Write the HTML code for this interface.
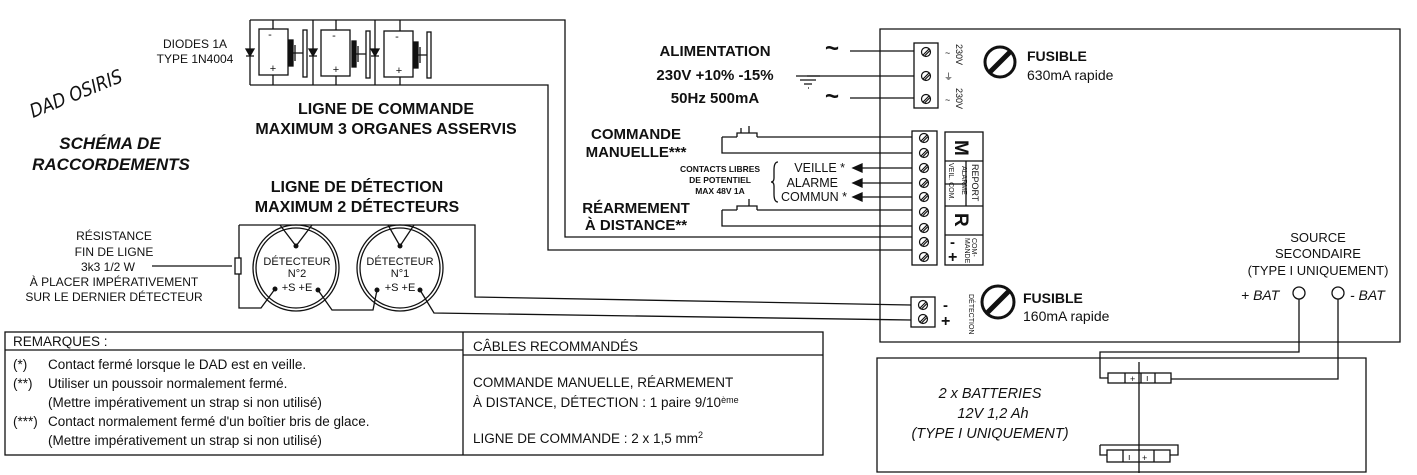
<!DOCTYPE html>
<html><head><meta charset="utf-8"><style>
html,body{margin:0;padding:0;background:#fff;}
svg{display:block;}
text{font-family:"Liberation Sans",sans-serif;fill:#111;}
.b{font-weight:bold;}
</style></head><body>
<svg width="1417" height="475" viewBox="0 0 1417 475" xmlns="http://www.w3.org/2000/svg">
<defs>
<g id="s"><circle cx="0" cy="0" r="4.5"/><path d="M-3 3 L3 -3 M-1.5 4 L4 -1.5"/></g>
</defs>
<g stroke="#111" stroke-width="1.3" fill="none">
<!-- diode / relay block -->
<path d="M250 20 H565 V237 H912"/>
<path d="M250 85 H548 V250 H912"/>
<path d="M250 20 V85 M313 20 V85 M375 20 V85"/>
<g fill="#111"><path d="M246 49 h8 l-4 7 z"/><path d="M309 49 h8 l-4 7 z"/><path d="M371 49 h8 l-4 7 z"/></g>
<path d="M246 56 h8 M309 56 h8 M371 56 h8"/>
<rect x="259" y="29" width="29" height="46"/><rect x="321" y="30" width="29" height="46"/><rect x="384" y="31" width="29" height="46"/>
<path d="M273 20 V29 M273 75 V85 M336 20 V30 M336 76 V85 M400 20 V31 M400 77 V85"/>
<g fill="#111"><rect x="289" y="40" width="4" height="26"/><rect x="352" y="41" width="4" height="26"/><rect x="414" y="42" width="4" height="26"/></g>
<path d="M293 53 H303 M295 45 V61 M356 54 H366 M358 46 V62 M418 55 H427 M420 47 V63"/>
<rect x="303" y="30" width="4" height="47"/><rect x="366" y="31" width="4" height="47"/><rect x="427" y="32" width="4" height="46"/>
<!-- detection line -->
<path d="M239 225 H475 V297 L911 305"/>
<path d="M239 225 V308 H261 L275 289"/>
<path d="M318 290 L332 310 H373 L377 290"/>
<path d="M420 290 L434 313 L911 320"/>
<path d="M280 225 L296 246 L312 225 M388 225 L400 246 L414 225"/>
<circle cx="296" cy="268" r="43"/><circle cx="296" cy="268" r="40"/>
<circle cx="400" cy="268" r="43"/><circle cx="400" cy="268" r="40"/>
<rect x="235" y="258" width="6" height="16" fill="#fff"/>
<path d="M152 266 H232"/>
<!-- main box -->
<path d="M880 29 H1400 V342 H880 Z"/>
<!-- battery box -->
<path d="M877 358 H1366 V472 H877 Z"/>
<!-- power block -->
<rect x="914" y="43" width="24" height="65"/>
<path d="M850 51 H914 M807 76 H914 M850 98 H914"/>
<path d="M796 76 h24 M800 80 h16 M804 84 h8 M808 88 h1"/>
<!-- control terminal block -->
<rect x="912" y="131" width="25" height="134"/>
<rect x="945" y="132" width="38" height="133"/>
<path d="M945 161 H983 M945 206 H983 M945 235 H983 M966 161 V206 M945 184 H966"/>
<path d="M722 137 H737 M757 137 H912 M722 137 V153 H912"/>
<path d="M737 137 v-4 h4 v-5 M741 133 h16 v4 M749 133 v-7"/>
<path d="M722 210 H737 M757 210 H912 M722 210 V226 H912"/>
<path d="M737 210 v-4 h4 M741 206 h16 v4 M749 206 v-7"/>
<path d="M860 168 H912 M860 183 H912 M860 197 H912"/>
<g fill="#111"><path d="M853 168 l9 -4 v8 z"/><path d="M853 183 l9 -4 v8 z"/><path d="M853 197 l9 -4 v8 z"/></g>
<path d="M778 162 q-4 0 -4 8 v8 q0 4 -3 4 q3 0 3 4 v8 q0 8 4 8"/>
<!-- detection block -->
<rect x="911" y="297" width="24" height="30"/>
<!-- fuses -->
<circle cx="1000" cy="62" r="15" stroke-width="3"/>
<circle cx="998" cy="302" r="16" stroke-width="3"/>
<path d="M990 72 L1010 52" stroke-width="5"/>
<path d="M987 313 L1009 291" stroke-width="5"/>
<!-- BAT -->
<circle cx="1299" cy="293" r="6"/><circle cx="1338" cy="293" r="6"/>
<path d="M1299 299 V352 H1100 V378 H1108"/>
<path d="M1338 299 V379 H1171"/>
<rect x="1108" y="373" width="63" height="10" fill="#fff"/>
<path d="M1125 373 v10 M1141 373 v10 M1155 373 v10"/>
<path d="M1139 362 V473"/>
<path d="M1100 445 H1178 V455 H1170 M1100 445 V455 H1107"/>
<rect x="1107" y="450" width="63" height="12" fill="#fff"/>
<path d="M1123 450 v12 M1139 450 v12 M1154 450 v12"/>
<!-- table -->
<rect x="5" y="332" width="818" height="123"/>
<path d="M463 332 V455 M5 350 H463 M463 355 H823"/>
</g>
<!-- screws -->
<g stroke="#111" stroke-width="1.2" fill="none">
<use href="#s" x="926" y="52"/><use href="#s" x="926" y="76"/><use href="#s" x="926" y="99"/>
<use href="#s" x="924" y="138"/><use href="#s" x="924" y="153"/><use href="#s" x="924" y="168"/><use href="#s" x="924" y="183"/><use href="#s" x="924" y="197"/><use href="#s" x="924" y="212"/><use href="#s" x="924" y="228"/><use href="#s" x="924" y="242"/><use href="#s" x="924" y="257"/>
<use href="#s" x="923" y="305"/><use href="#s" x="923" y="319"/>
</g>
<g fill="#111"><circle cx="296" cy="246" r="2.5"/><circle cx="275" cy="289" r="2.5"/><circle cx="318" cy="290" r="2.5"/><circle cx="400" cy="246" r="2.5"/><circle cx="377" cy="290" r="2.5"/><circle cx="420" cy="290" r="2.5"/></g>

<!-- texts -->
<text x="195" y="48" font-size="12" text-anchor="middle">DIODES 1A</text>
<text x="195" y="63" font-size="12" text-anchor="middle">TYPE 1N4004</text>
<g font-size="11"><text x="270" y="38" text-anchor="middle">-</text><text x="273" y="72" text-anchor="middle">+</text>
<text x="334" y="39" text-anchor="middle">-</text><text x="336" y="73" text-anchor="middle">+</text>
<text x="397" y="40" text-anchor="middle">-</text><text x="399" y="74" text-anchor="middle">+</text></g>
<text x="0" y="0" font-size="19" font-style="italic" transform="translate(33 118) rotate(-22)" style="font-family:'DejaVu Sans',sans-serif" textLength="98" lengthAdjust="spacingAndGlyphs">DAD OSIRIS</text>
<text x="110" y="149" font-size="17" class="b" font-style="italic" text-anchor="middle">SCHÉMA DE</text>
<text x="111" y="170" font-size="17" class="b" font-style="italic" text-anchor="middle">RACCORDEMENTS</text>
<text x="386" y="114" font-size="16" class="b" text-anchor="middle">LIGNE DE COMMANDE</text>
<text x="386" y="134" font-size="16" class="b" text-anchor="middle">MAXIMUM 3 ORGANES ASSERVIS</text>
<text x="357" y="192" font-size="16" class="b" text-anchor="middle">LIGNE DE DÉTECTION</text>
<text x="357" y="212" font-size="16" class="b" text-anchor="middle">MAXIMUM 2 DÉTECTEURS</text>
<g font-size="12" text-anchor="middle">
<text x="114" y="240">RÉSISTANCE</text><text x="114" y="256">FIN DE LIGNE</text><text x="108" y="271">3k3 1/2 W</text>
<text x="114" y="286">À PLACER IMPÉRATIVEMENT</text><text x="114" y="301">SUR LE DERNIER DÉTECTEUR</text>
</g>
<g font-size="11" text-anchor="middle">
<text x="297" y="265">DÉTECTEUR</text><text x="297" y="277">N°2</text><text x="297" y="291">+S +E</text>
<text x="400" y="265">DÉTECTEUR</text><text x="400" y="277">N°1</text><text x="400" y="291">+S +E</text>
</g>
<g class="b" font-size="15" text-anchor="middle">
<text x="715" y="56">ALIMENTATION</text><text x="715" y="80">230V +10% -15%</text><text x="715" y="103">50Hz 500mA</text>
<text x="636" y="139">COMMANDE</text><text x="636" y="157">MANUELLE***</text>
<text x="636" y="213">RÉARMEMENT</text><text x="636" y="230">À DISTANCE**</text>
</g>
<text x="832" y="56" font-size="24" class="b" text-anchor="middle">~</text>
<text x="832" y="104" font-size="24" class="b" text-anchor="middle">~</text>
<g class="b" font-size="8.5" text-anchor="middle">
<text x="720" y="172">CONTACTS LIBRES</text><text x="720" y="183">DE POTENTIEL</text><text x="720" y="194">MAX 48V 1A</text>
</g>
<g font-size="12.5" text-anchor="end">
<text x="845" y="172">VEILLE *</text><text x="838" y="187">ALARME</text><text x="847" y="201">COMMUN *</text>
</g>
<g font-size="9">
<text transform="translate(956 44) rotate(90)">230V</text>
<text transform="translate(956 88) rotate(90)">230V</text>
<text x="945" y="56">~</text><text x="945" y="103">~</text><text x="944" y="80">⏚</text>
</g>
<text transform="translate(955 140) rotate(90)" font-size="19" class="b">M</text>
<text transform="translate(955 213) rotate(90)" font-size="19" class="b">R</text>
<text transform="translate(972 164) rotate(90)" font-size="9">REPORT</text>
<text transform="translate(962 166) rotate(90)" font-size="7">ALARME</text>
<text transform="translate(949 163) rotate(90)" font-size="7">VEIL. COM.</text>
<text transform="translate(972 238) rotate(90)" font-size="7">COM-</text>
<text transform="translate(965 238) rotate(90)" font-size="7">MANDE</text>
<text x="950" y="247" font-size="15" class="b">-</text><text x="948" y="262" font-size="16" class="b">+</text>
<text x="943" y="310" font-size="15" class="b">-</text><text x="941" y="326" font-size="16" class="b">+</text>
<text transform="translate(969 294) rotate(90)" font-size="7">DÉTECTION</text>
<g font-size="14">
<text x="1027" y="61" font-weight="bold">FUSIBLE</text><text x="1027" y="80">630mA rapide</text>
<text x="1023" y="303" font-weight="bold">FUSIBLE</text><text x="1023" y="321">160mA rapide</text>
</g>
<g font-size="13" text-anchor="middle">
<text x="1318" y="242">SOURCE</text><text x="1318" y="258">SECONDAIRE</text><text x="1318" y="275">(TYPE I UNIQUEMENT)</text>
</g>
<text x="1241" y="300" font-size="14" font-style="italic">+ BAT</text>
<text x="1350" y="300" font-size="14" font-style="italic">- BAT</text>
<g font-size="9"><text x="1130" y="382">+</text><text x="1146" y="381">ı</text><text x="1128" y="460">ı</text><text x="1142" y="461">+</text></g>
<g font-size="14.5" font-style="italic" text-anchor="middle">
<text x="990" y="398">2 x BATTERIES</text><text x="993" y="418">12V 1,2 Ah</text><text x="990" y="438">(TYPE I UNIQUEMENT)</text>
</g>
<g font-size="13.5">
<text x="13" y="346">REMARQUES :</text>
<text x="13" y="369">(*)</text><text x="48" y="369">Contact fermé lorsque le DAD est en veille.</text>
<text x="13" y="388">(**)</text><text x="48" y="388">Utiliser un poussoir normalement fermé.</text>
<text x="48" y="407">(Mettre impérativement un strap si non utilisé)</text>
<text x="13" y="426">(***)</text><text x="48" y="426">Contact normalement fermé d'un boîtier bris de glace.</text>
<text x="48" y="445">(Mettre impérativement un strap si non utilisé)</text>
<text x="473" y="351">CÂBLES RECOMMANDÉS</text>
<text x="473" y="387">COMMANDE MANUELLE, RÉARMEMENT</text>
<text x="473" y="407">À DISTANCE, DÉTECTION : 1 paire 9/10<tspan font-size="9" dy="-4">ème</tspan></text>
<text x="473" y="443">LIGNE DE COMMANDE : 2 x 1,5 mm<tspan font-size="9" dy="-5">2</tspan></text>
</g>
</svg>
</body></html>
